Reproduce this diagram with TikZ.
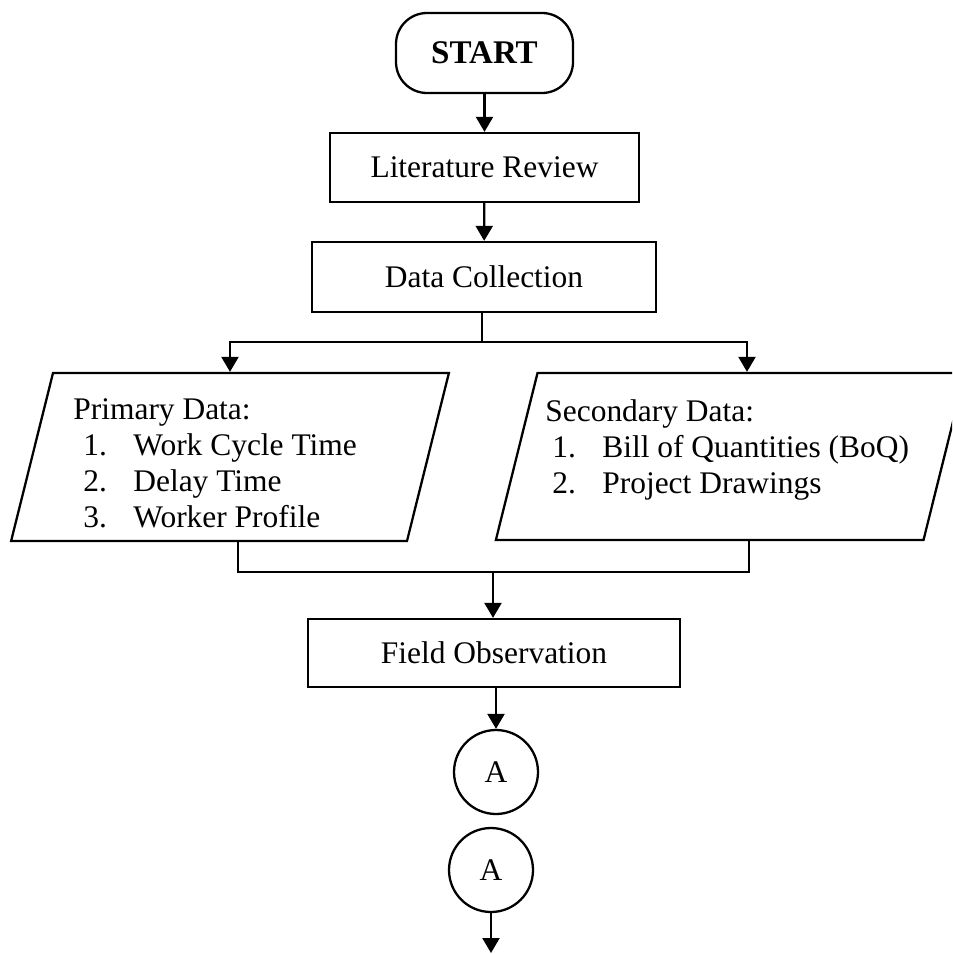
\documentclass[tikz,border=0pt]{standalone}
\usepackage{fontspec}
\setmainfont{Liberation Serif}
\usepackage{tikz}
\usetikzlibrary{arrows.meta, positioning, calc, shapes.geometric}
\newcommand{\flowfont}{\fontsize{17.9pt}{20.5pt}\selectfont}
\newcommand{\flowitem}[3]{\hspace*{#1}\makebox[1cm][l]{#2.}#3}
\tikzset{
	stepbox/.style={draw, line width=1.3pt, minimum width=#1, minimum height=1.38cm, font=\flowfont, inner sep=0pt},
	termbox/.style={draw, line width=1.3pt, rounded corners=0.62cm, minimum width=3.54cm, minimum height=1.6cm, font=\fontsize{18.8pt}{21pt}\selectfont\bfseries},
	iobox/.style={draw, line width=1.3pt, trapezium, trapezium left angle=76, trapezium right angle=104, inner ysep=1.68cm, inner xsep=#1},
	listtext/.style={anchor=north west, align=left, inner sep=0pt, font=\flowfont},
	connbox/.style={draw, circle, line width=1.3pt, minimum size=1.68cm, inner sep=0pt, font=\flowfont},
	flowarr/.style={-{Triangle[length=0.3cm, width=0.34cm]}, line width=1.3pt},
	flowline/.style={line width=1.3pt},
}

\begin{document}
\begin{tikzpicture}
				\path[use as bounding box, clip] (0,0) rectangle (19.04,-19.08);
				\node[termbox] (start) at (9.69,-1.06) {START};
				\node[stepbox=6.18cm] (litrev) at (9.69,-3.35) {Literature Review};
				\node[stepbox=6.88cm, minimum height=1.4cm] (datacol) at (9.68,-5.54) {Data Collection};
				\coordinate (split) at (9.64,-6.84);
				\node[iobox=3.54cm] (primary) at (4.6,-9.14) {};
				\node[iobox=3.86cm, inner ysep=1.67cm] (secondary) at (14.61,-9.13) {};
				\node[listtext] (primtxt) at (1.46,-7.96) {Primary Data:\\ \flowitem{0.2cm}{1}{Work Cycle Time}\\ \flowitem{0.2cm}{2}{Delay Time}\\ \flowitem{0.2cm}{3}{Worker Profile}};
				\node[listtext] (sectxt) at (10.9,-7.98) {Secondary Data:\\ \flowitem{0.14cm}{1}{Bill of Quantities (BoQ)}\\ \flowitem{0.14cm}{2}{Project Drawings}};
				\coordinate (join) at (9.86,-11.44);
				\node[stepbox=7.44cm, minimum height=1.36cm] (fieldobs) at (9.88,-13.06) {Field Observation};
				\node[connbox] (conA1) at (9.92,-15.44) {A};
				\node[connbox] (conA2) at (9.82,-17.4) {A};
				\coordinate (endpt) at (9.82,-19.06);
				\draw[flowarr] (start) -- (litrev);
				\draw[flowarr] (litrev) -- (datacol);
				\draw[flowline] (datacol.south -| split) -- (split);
				\draw[flowarr] (split) -| (primary.north);
				\draw[flowarr] (split) -| ([xshift=0.33cm]secondary.north);
				\draw[flowline] ([xshift=0.16cm]primary.south) |- (join) -| ([xshift=0.37cm]secondary.south);
				\draw[flowarr] (join) -- (join |- fieldobs.north);
				\draw[flowarr] (fieldobs.south -| conA1) -- (conA1);
				\draw[flowarr] (conA2) -- (endpt);
			\end{tikzpicture}
\end{document}
